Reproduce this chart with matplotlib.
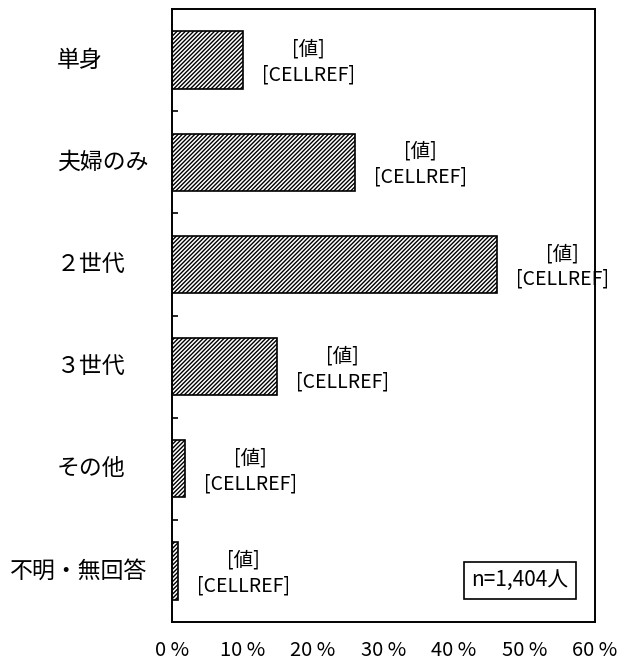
import numpy as np
import matplotlib
matplotlib.use("Agg")
import matplotlib.pyplot as plt
from matplotlib.ticker import FuncFormatter

plt.rcParams['font.family'] = ['Noto Sans CJK JP', 'DejaVu Sans']
plt.rcParams['hatch.linewidth'] = 1.0
plt.rcParams['hatch.color'] = '#333333'

# データ
categories = ['単身', '夫婦のみ', '２世代', '３世代', 'その他', '不明・無回答']
values = [10.1, 26.0, 46.1, 14.9, 1.9, 0.9]
label_lines = ['[値]', '[CELLREF]']
x_ticks = [0, 10, 20, 30, 40, 50, 60]
n_note = 'n=1,404人'

fig = plt.figure(figsize=(6.30, 6.63), dpi=100)
ax = fig.add_axes([171.7 / 630, 1 - 622 / 663, 423.3 / 630, 613 / 663])

y = np.arange(len(categories))
ax.barh(y, values, height=0.56, color='white', edgecolor='black',
        linewidth=1.2, hatch='////////', zorder=2)

ax.set_xlim(0, 60)
ax.set_ylim(len(categories) - 0.5, -0.5)

# 値ラベル（棒の右側）
for yi, v in zip(y, values):
    ax.annotate('\n'.join(label_lines), xy=(v, yi), xytext=(47, -1.5),
                textcoords='offset points', ha='center', va='center',
                fontsize=14, linespacing=1.3, zorder=3)

# 軸ラベル
ax.set_xticks(x_ticks)
ax.xaxis.set_major_formatter(FuncFormatter(lambda v, p: f"{int(v)} %"))
ax.tick_params(axis='x', length=0, pad=13, labelsize=14.5)

ax.set_yticks([])
ax.set_yticks(np.arange(0.5, len(categories) - 0.5, 1), minor=True)
ax.tick_params(axis='y', which='minor', direction='in', length=4.5, width=1.2)

trans = ax.get_yaxis_transform()
for yi, cat in zip(y, categories):
    if len(cat) > 4:
        ax.text(-0.058, yi, cat, transform=trans, ha='right', va='center', fontsize=16.5)
    else:
        ax.text(-0.271, yi, cat, transform=trans, ha='left', va='center', fontsize=16.5)

for s in ax.spines.values():
    s.set_linewidth(1.4)

# n数
ax.text(0.8226, 0.068, n_note, transform=ax.transAxes, ha='center', va='center',
        fontsize=15, bbox=dict(boxstyle='square,pad=0.35', facecolor='white',
                               edgecolor='black', linewidth=1.2))

fig.savefig('out.png', dpi=100)
